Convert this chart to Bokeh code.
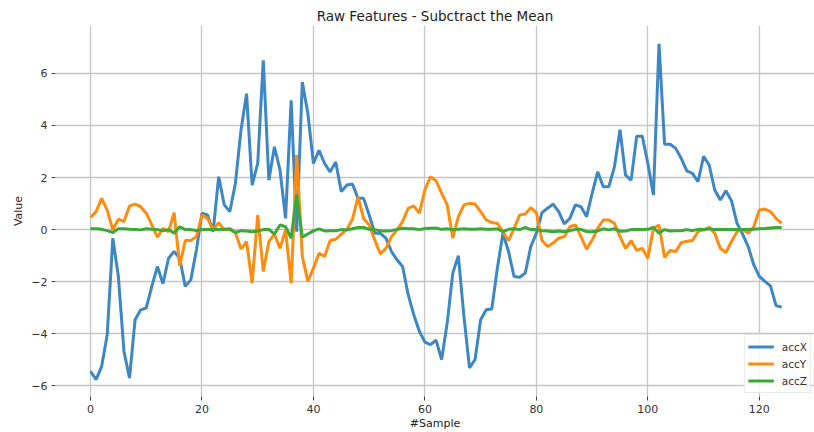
from bokeh.plotting import figure
from bokeh.models import Range1d, FixedTicker, ColumnDataSource
from bokeh.embed import file_html
from bokeh.resources import INLINE

acc_x = [-5.44, -5.76, -5.25, -4.04, -0.33, -1.80, -4.67, -5.70, -3.46, -3.08,
         -3.01, -2.18, -1.42, -2.08, -1.10, -0.84, -1.10, -2.18, -1.93, -0.78,
         0.63, 0.56, -0.08, 2.03, 0.95, 0.69, 1.78, 3.82, 5.22, 1.71,
         2.54, 6.50, 1.90, 3.18, 2.29, 0.43, 4.97, -0.08, 5.67, 4.46,
         2.54, 3.05, 2.54, 2.22, 2.60, 1.46, 1.71, 1.75, 1.20, 1.20,
         0.56, -0.14, -0.14, -0.33, -0.84, -1.16, -1.42, -2.50, -3.27, -3.90,
         -4.32, -4.42, -4.25, -4.99, -3.59, -1.67, -1.00, -3.33, -5.31, -4.99,
         -3.46, -3.08, -3.05, -1.48, -0.14, -0.84, -1.80, -1.83, -1.67, -0.65,
         -0.14, 0.65, 0.82, 0.98, 0.69, 0.22, 0.43, 0.95, 0.88, 0.50,
         1.39, 2.22, 1.65, 1.65, 2.41, 3.84, 2.09, 1.90, 3.59, 3.59,
         2.54, 1.33, 7.14, 3.28, 3.28, 3.12, 2.73, 2.26, 2.16, 1.84,
         2.82, 2.48, 1.52, 1.14, 1.49, 1.11, 0.24, -0.17, -0.65, -1.35,
         -1.80, -1.99, -2.16, -2.92, -2.98]

acc_y = [0.47, 0.69, 1.20, 0.75, -0.01, 0.40, 0.31, 0.91, 0.98, 0.88,
         0.63, 0.18, -0.29, 0.05, -0.08, 0.65, -1.39, -0.42, -0.42, -0.27,
         0.56, 0.43, -0.01, 0.27, -0.01, 0.00, -0.11, -0.75, -0.46, -2.06,
         0.56, -1.61, -0.46, -0.17, -0.72, -0.01, -2.06, 2.86, -1.03, -1.99,
         -1.48, -0.91, -1.03, -0.42, -0.37, -0.17, 0.01, 0.40, 1.26, 0.43,
         0.18, -0.40, -0.93, -0.72, -0.27, -0.01, 0.31, 0.82, 0.91, 0.63,
         1.53, 2.03, 1.88, 1.39, 0.95, -0.33, 0.50, 0.95, 1.01, 0.98,
         0.69, 0.37, 0.27, 0.24, -0.08, -0.42, 0.05, 0.56, 0.60, 0.84,
         0.65, -0.42, -0.65, -0.52, -0.33, -0.27, 0.11, 0.18, -0.27, -0.75,
         -0.40, 0.05, 0.37, 0.37, 0.24, -0.27, -0.72, -0.42, -0.80, -0.72,
         -1.10, 0.05, 0.18, -1.06, -0.80, -0.84, -0.50, -0.45, -0.42, -0.08,
         -0.01, 0.09, -0.14, -0.72, -0.88, -0.46, -0.08, 0.01, -0.14, 0.11,
         0.75, 0.79, 0.69, 0.43, 0.24]

acc_z = [0.03, 0.03, 0.01, -0.04, -0.11, 0.03, 0.03, 0.01, 0.00, -0.01,
         0.03, 0.01, 0.00, -0.04, 0.00, -0.14, 0.11, 0.00, 0.00, -0.03,
         0.00, 0.00, 0.00, 0.00, 0.01, 0.03, -0.11, -0.04, -0.05, -0.08,
         -0.05, 0.00, 0.01, -0.17, 0.18, 0.11, -0.33, 1.33, -0.29, -0.17,
         -0.05, 0.03, -0.05, -0.04, -0.04, 0.00, -0.01, 0.03, 0.08, 0.08,
         0.01, 0.00, -0.05, -0.05, -0.04, 0.01, 0.05, 0.03, 0.03, 0.00,
         0.04, 0.05, 0.06, 0.01, 0.03, 0.00, 0.01, 0.03, 0.01, 0.01,
         0.03, 0.01, 0.01, 0.03, -0.08, 0.01, 0.03, 0.00, 0.09, 0.00,
         0.00, -0.04, -0.05, -0.08, -0.05, -0.08, -0.04, 0.01, 0.01, -0.08,
         -0.08, -0.05, 0.03, -0.01, 0.03, -0.06, -0.05, 0.00, 0.00, 0.00,
         0.01, 0.08, -0.14, 0.00, -0.05, -0.04, -0.04, 0.00, -0.04, 0.01,
         0.00, 0.03, 0.00, 0.00, 0.00, 0.00, 0.00, 0.00, 0.00, 0.01,
         0.03, 0.04, 0.06, 0.08, 0.08]

samples = list(range(len(acc_x)))
series_names = ["accX", "accY", "accZ"]
series_colors = ["#3d87c4", "#ff8c0f", "#3ba936"]
x_ticks = [0, 20, 40, 60, 80, 100, 120]
y_ticks = [-6, -4, -2, 0, 2, 4, 6]

FONT = "DejaVu Sans"

p = figure(width=814, height=432, output_backend="svg", toolbar_location=None,
           x_range=Range1d(-6.28, 129.9), y_range=Range1d(-6.41, 7.84),
           min_border_left=55, min_border_right=0, min_border_top=25,
           min_border_bottom=35,
           title="Raw Features - Subctract the Mean")
p.outline_line_color = None
p.background_fill_color = "white"
p.border_fill_color = "white"

p.title.align = "center"
p.title.text_font = FONT
p.title.text_font_size = "13.5px"
p.title.text_font_style = "normal"
p.title.text_color = "#222222"
p.title.standoff = 4
p.title.offset = 0

src = ColumnDataSource(dict(sample=samples, accX=acc_x, accY=acc_y, accZ=acc_z))
for name, col in zip(series_names, series_colors):
    p.line("sample", name, source=src, line_color=col, line_width=3,
           legend_label=name)

for ax in (p.xaxis[0], p.yaxis[0]):
    ax.axis_line_color = None
    ax.major_tick_line_color = "#444444"
    ax.major_tick_out = 4
    ax.major_tick_in = 0
    ax.minor_tick_line_color = None
    ax.major_label_text_font = FONT
    ax.major_label_text_font_size = "11px"
    ax.major_label_text_color = "#333333"
    ax.axis_label_text_font = FONT
    ax.axis_label_text_font_size = "11px"
    ax.axis_label_text_font_style = "normal"
    ax.axis_label_text_color = "#222222"
    ax.major_label_standoff = 4

p.xaxis.ticker = FixedTicker(ticks=x_ticks)
p.yaxis.ticker = FixedTicker(ticks=y_ticks)
p.yaxis.major_label_overrides = {t: (("\u2212" + str(-t)) if t < 0 else str(t)) for t in y_ticks}
p.xaxis.axis_label = "#Sample"
p.yaxis.axis_label = "Value"
p.xaxis.axis_label_standoff = 1
p.yaxis.axis_label_standoff = 3

for g in (p.xgrid[0], p.ygrid[0]):
    g.grid_line_color = "#c4c8c4"
    g.grid_line_width = 1.3

lg = p.legend[0]
lg.location = "bottom_right"
lg.label_text_font = FONT
lg.label_text_font_size = "10.5px"
lg.label_text_color = "#333333"
lg.border_line_color = "#d4d4d4"
lg.background_fill_alpha = 0.85
lg.glyph_width = 26
lg.glyph_height = 17
lg.label_height = 17
lg.spacing = 0
lg.padding = 3
lg.margin = 3
lg.label_standoff = 8

open("out.html", "w").write(file_html(p, INLINE))
